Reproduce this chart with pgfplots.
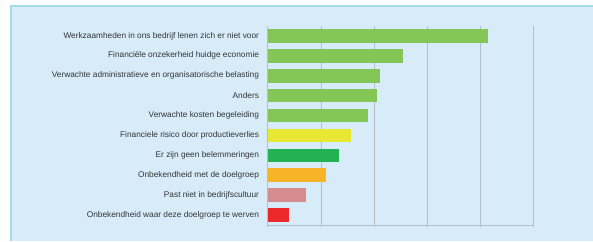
\documentclass[border=0pt]{standalone}
\usepackage{pgfplots}
\pgfplotsset{compat=1.18}
\usepackage{fontspec}
\setmainfont{Liberation Sans}
\definecolor{bgblue}{RGB}{215,236,248}
\definecolor{bordercol}{RGB}{165,218,234}
\definecolor{gridc}{RGB}{178,190,200}
\definecolor{labc}{RGB}{50,52,56}
\definecolor{lgreen}{RGB}{132,198,86}
\definecolor{cyellow}{RGB}{232,232,52}
\definecolor{dgreen}{RGB}{34,178,84}
\definecolor{corange}{RGB}{246,180,38}
\definecolor{cpink}{RGB}{214,140,140}
\definecolor{cred}{RGB}{236,40,42}
\begin{document}
\begin{tikzpicture}[x=1pt,y=1pt]
\useasboundingbox (0,0) rectangle (593,241);
\fill[bgblue] (11,0) rectangle (593,235);
\draw[bordercol, line width=1.6pt] (11,0) -- (11,235) -- (593,235);
\begin{axis}[
  at={(267.7pt,16pt)}, anchor=south west,
  scale only axis, width=265.6pt, height=199pt,
  xmin=0, xmax=50, ymin=-0.5, ymax=9.5, y dir=reverse,
  xbar, bar width=13.7pt, bar shift=0pt,
  axis lines*=left,
  axis line style={draw=gridc, line width=0.6pt},
  xtick={0,10,20,30,40,50}, xticklabels={},
  xmajorgrids, grid style={draw=gridc, line width=0.6pt},
  tick align=outside, major tick length=2pt, minor tick length=2pt,
  tick style={draw=gridc, line width=0.5pt},
  ytick={0,...,9},
  ytick style={draw=none},
  minor ytick={-0.5,0.5,1.5,2.5,3.5,4.5,5.5,6.5,7.5,8.5,9.5},
  minor tick style={draw=gridc, line width=0.5pt},
  yticklabels={Werkzaamheden in ons bedrijf lenen zich er niet voor,
    Financiële onzekerheid huidge economie,
    Verwachte administratieve en organisatorische belasting,
    Anders,
    Verwachte kosten begeleiding,
    Financiele risico door productieverlies,
    Er zijn geen belemmeringen,
    Onbekendheid met de doelgroep,
    Past niet in bedrijfscultuur,
    Onbekendheid waar deze doelgroep te werven},
  yticklabel style={font=\fontsize{8.3}{10}\selectfont, text=labc, inner sep=0pt, xshift=-6.5pt},
  every axis plot/.append style={draw=none},
]
\addplot[fill=lgreen] coordinates {(41.5,0)};
\addplot[fill=lgreen] coordinates {(25.4,1)};
\addplot[fill=lgreen] coordinates {(21.1,2)};
\addplot[fill=lgreen] coordinates {(20.5,3)};
\addplot[fill=lgreen] coordinates {(18.8,4)};
\addplot[fill=cyellow] coordinates {(15.6,5)};
\addplot[fill=dgreen] coordinates {(13.5,6)};
\addplot[fill=corange] coordinates {(10.9,7)};
\addplot[fill=cpink] coordinates {(7.2,8)};
\addplot[fill=cred] coordinates {(4.0,9)};
\end{axis}
\end{tikzpicture}
\end{document}
